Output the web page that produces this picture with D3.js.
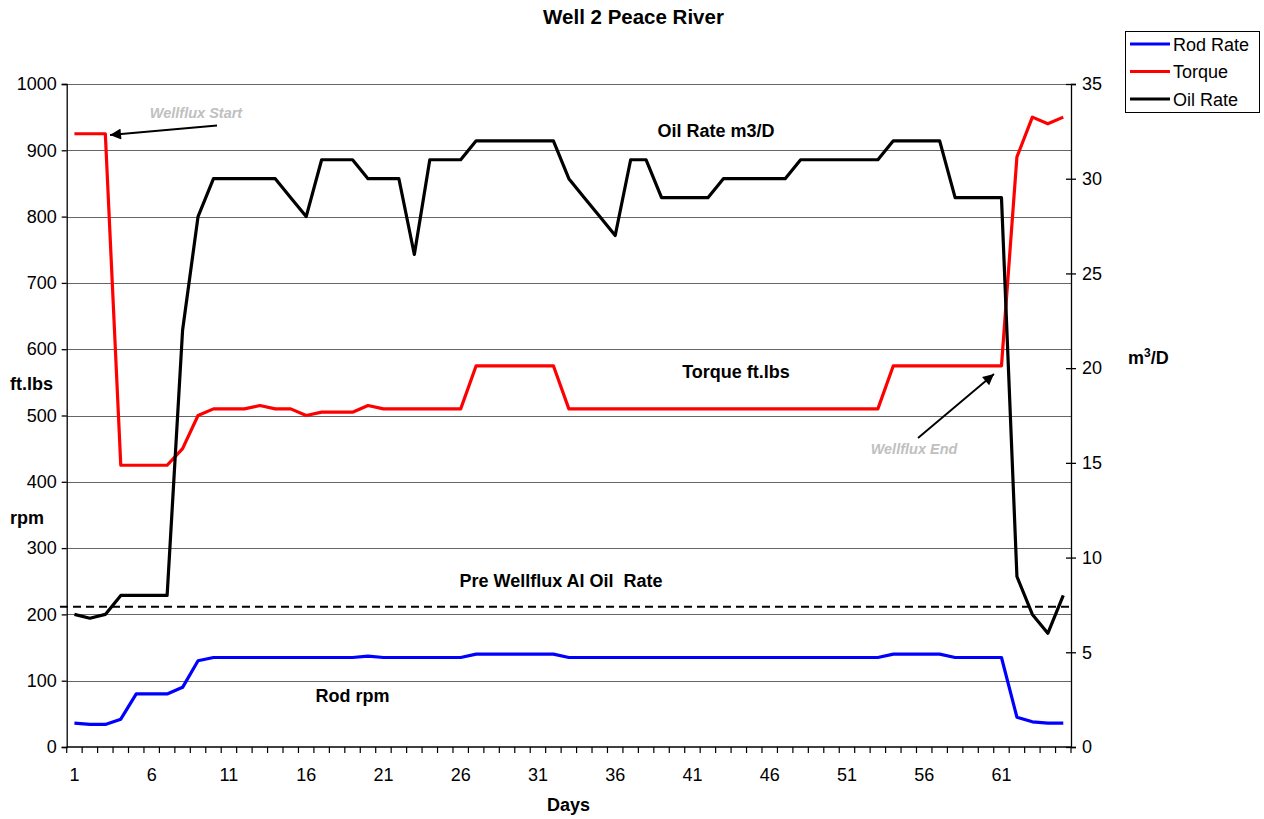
<!DOCTYPE html>
<html><head><meta charset="utf-8">
<script src="https://cdn.jsdelivr.net/npm/d3@7"></script>
<style>
html,body{margin:0;padding:0;background:#fff;}
svg{font-family:"Liberation Sans",Arial,sans-serif;display:block;}
</style></head>
<body>
<svg id="chart" width="1264" height="819"></svg>
<script>
const days = d3.range(1, 66);
const rodRate = [36,34,34,42,80,80,80,90,130,135,135,135,135,135,135,135,135,135,135,137,135,135,135,135,135,135,140,140,140,140,140,140,135,135,135,135,135,135,135,135,135,135,135,135,135,135,135,135,135,135,135,135,135,140,140,140,140,135,135,135,135,45,38,36,36];
const torque = [925,925,925,425,425,425,425,450,500,510,510,510,515,510,510,500,505,505,505,515,510,510,510,510,510,510,575,575,575,575,575,575,510,510,510,510,510,510,510,510,510,510,510,510,510,510,510,510,510,510,510,510,510,575,575,575,575,575,575,575,575,890,950,940,950];
const oilRate = [7,6.8,7,8,8,8,8,22,28,30,30,30,30,30,29,28,31,31,31,30,30,30,26,31,31,31,32,32,32,32,32,32,30,29,28,27,31,31,29,29,29,29,30,30,30,30,30,31,31,31,31,31,31,32,32,32,32,29,29,29,29,9,7,6,8];
const preWellfluxOilRate = 7.4;
const leftTicks = d3.range(0, 1001, 100);
const rightTicks = d3.range(0, 36, 5);
const xTickLabels = [1,6,11,16,21,26,31,36,41,46,51,56,61];
const seriesNames = ["Rod Rate","Torque","Oil Rate"];
const seriesColors = ["#0000ff","#ff0000","#000000"];

const svg = d3.select("#chart");
const L = 66.7, R = 1071, T = 84, B = 747;
const x = d3.scaleBand().domain(days).range([L, R]);
const cx = d => x(d) + x.bandwidth() / 2;
const yL = d3.scaleLinear().domain([0, 1000]).range([B, T]);
const yR = d3.scaleLinear().domain([0, 35]).range([B, T]);

// gridlines
svg.append("g").selectAll("line").data(leftTicks.filter(v => v > 0)).join("line")
  .attr("x1", L).attr("x2", R)
  .attr("y1", d => Math.round(yL(d)) + 0.5).attr("y2", d => Math.round(yL(d)) + 0.5)
  .attr("stroke", "#666").attr("stroke-width", 1);

// left axis
const gL = svg.append("g").attr("transform", `translate(${L},0)`)
  .call(d3.axisLeft(yL).tickValues(leftTicks).tickFormat(d3.format("d")).tickSize(5).tickPadding(5));
gL.selectAll("text").attr("font-size", 18).attr("fill", "#000").attr("font-family", "Liberation Sans, Arial");
gL.selectAll("line,path").attr("stroke", "#000").attr("stroke-width", 1.3);

// right axis
const gR = svg.append("g").attr("transform", `translate(${R},0)`)
  .call(d3.axisRight(yR).tickValues(rightTicks).tickFormat(d3.format("d")).tickSize(5).tickPadding(6));
gR.selectAll("text").attr("font-size", 18).attr("fill", "#000").attr("font-family", "Liberation Sans, Arial");
gR.selectAll("line,path").attr("stroke", "#000").attr("stroke-width", 1.3);
gR.selectAll(".tick").append("line").attr("x1", -5).attr("x2", 0).attr("stroke", "#000").attr("stroke-width", 1.3);

// bottom axis
const gB = svg.append("g");
gB.append("line").attr("x1", L).attr("x2", R).attr("y1", B).attr("y2", B).attr("stroke", "#000").attr("stroke-width", 1.3);
gB.selectAll("line.tk").data(days.concat([null])).join("line").attr("class", "tk")
  .attr("x1", d => d === null ? R : x(d)).attr("x2", d => d === null ? R : x(d))
  .attr("y1", B).attr("y2", B + 6).attr("stroke", "#000").attr("stroke-width", 1.2);
gB.selectAll("text").data(xTickLabels).join("text")
  .attr("x", d => cx(d)).attr("y", 781).attr("text-anchor", "middle")
  .attr("font-size", 18).text(d => d);

// dashed reference line
svg.append("line").attr("x1", 60).attr("x2", R)
  .attr("y1", yR(preWellfluxOilRate)).attr("y2", yR(preWellfluxOilRate))
  .attr("stroke", "#000").attr("stroke-width", 2).attr("stroke-dasharray", "8,5");

// series
const lineL = d3.line().x((d, i) => cx(days[i])).y(d => yL(d));
const lineR = d3.line().x((d, i) => cx(days[i])).y(d => yR(d));
svg.append("path").datum(rodRate).attr("d", lineL).attr("fill", "none").attr("stroke", seriesColors[0]).attr("stroke-width", 3.2).attr("stroke-linejoin", "round");
svg.append("path").datum(torque).attr("d", lineL).attr("fill", "none").attr("stroke", seriesColors[1]).attr("stroke-width", 3.2).attr("stroke-linejoin", "round");
svg.append("path").datum(oilRate).attr("d", lineR).attr("fill", "none").attr("stroke", seriesColors[2]).attr("stroke-width", 3.2).attr("stroke-linejoin", "round");

// title
svg.append("text").attr("x", 633.5).attr("y", 24).attr("text-anchor", "middle")
  .attr("font-size", 20.5).attr("font-weight", "bold").text("Well 2 Peace River");

// axis titles
svg.append("text").attr("x", 568.5).attr("y", 811).attr("text-anchor", "middle").attr("font-size", 18).attr("font-weight", "bold").text("Days");
svg.append("text").attr("x", 10).attr("y", 390).attr("font-size", 18).attr("font-weight", "bold").text("ft.lbs");
svg.append("text").attr("x", 10).attr("y", 524).attr("font-size", 18).attr("font-weight", "bold").text("rpm");
const m3 = svg.append("text").attr("x", 1128).attr("y", 364).attr("font-size", 18).attr("font-weight", "bold");
m3.append("tspan").text("m");
m3.append("tspan").attr("font-size", 12).attr("dy", -7).text("3");
m3.append("tspan").attr("dy", 7).text("/D");

// in-plot labels
const lab = (t, xx, yy) => svg.append("text").attr("x", xx).attr("y", yy).attr("text-anchor", "middle")
  .attr("font-size", 18).attr("font-weight", "bold").style("white-space", "pre").text(t);
lab("Oil Rate m3/D", 716, 137);
lab("Torque ft.lbs", 736, 378);
lab("Pre Wellflux AI Oil  Rate", 561, 587);
lab("Rod rpm", 352.5, 702);

// annotations
const defs = svg.append("defs");
defs.append("marker").attr("id", "ah").attr("viewBox", "0 0 10 10").attr("refX", 10).attr("refY", 5)
  .attr("markerWidth", 13).attr("markerHeight", 11).attr("markerUnits", "userSpaceOnUse").attr("orient", "auto")
  .append("path").attr("d", "M0,0 L10,5 L0,10 Z").attr("fill", "#000");
const ann = (t, tx, ty, x1, y1, x2, y2) => {
  svg.append("text").attr("x", tx).attr("y", ty).attr("text-anchor", "middle").attr("font-size", 14.5)
    .attr("font-weight", "bold").attr("font-style", "italic").attr("fill", "#c0c0c0").text(t);
  svg.append("line").attr("x1", x1).attr("y1", y1).attr("x2", x2).attr("y2", y2)
    .attr("stroke", "#000").attr("stroke-width", 1.8).attr("marker-end", "url(#ah)");
};
ann("Wellflux Start", 196, 118, 217, 125.5, 110, 135);
ann("Wellflux End", 914, 454, 918, 438, 994, 374);

// legend
const lg = svg.append("g");
lg.append("rect").attr("x", 1125.5).attr("y", 31.5).attr("width", 134).attr("height", 81)
  .attr("fill", "#fff").attr("stroke", "#000").attr("stroke-width", 1);
seriesNames.forEach((n, i) => {
  const yy = 44 + i * 27.5;
  lg.append("line").attr("x1", 1130).attr("x2", 1170).attr("y1", yy).attr("y2", yy)
    .attr("stroke", seriesColors[i]).attr("stroke-width", 3.2);
  lg.append("text").attr("x", 1173).attr("y", yy + 6.5).attr("font-size", 18).text(n);
});
</script>
</body></html>
